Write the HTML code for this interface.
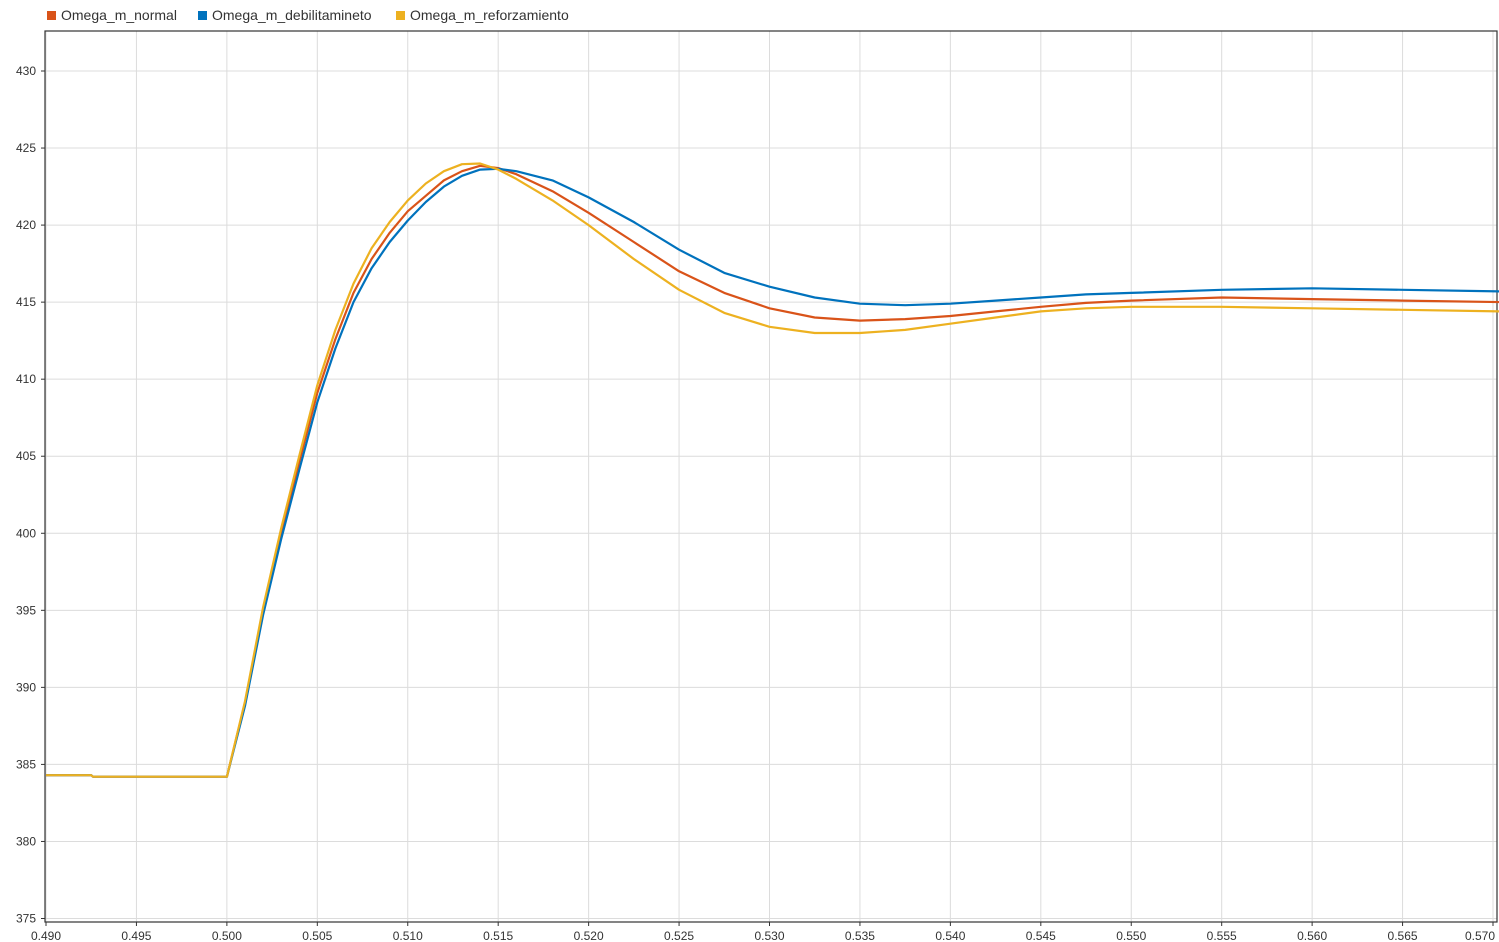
<!DOCTYPE html>
<html><head><meta charset="utf-8"><style>
html,body{margin:0;padding:0;background:#fff;width:1499px;height:942px;overflow:hidden}
svg{font-family:"Liberation Sans",Arial,sans-serif}
</style></head><body>
<svg id="chart" width="1499" height="942" xmlns="http://www.w3.org/2000/svg"></svg>
<script>
const tValues=[0.490,0.4925,0.4926,0.500,0.501,0.502,0.503,0.504,0.505,0.506,0.507,0.508,0.509,0.510,0.511,0.512,0.513,0.514,0.515,0.516,0.518,0.520,0.5225,0.525,0.5275,0.530,0.5325,0.535,0.5375,0.540,0.5425,0.545,0.5475,0.550,0.555,0.560,0.565,0.5705];
const normalValues=[384.3,384.3,384.2,384.2,389.0,395.0,400.0,404.6,409.1,412.6,415.6,417.8,419.5,420.9,421.9,422.9,423.5,423.85,423.7,423.3,422.2,420.8,418.9,417.0,415.6,414.6,414.0,413.8,413.9,414.1,414.4,414.7,414.95,415.1,415.3,415.2,415.1,415.0];
const debilValues=[384.3,384.3,384.2,384.2,388.8,394.7,399.6,404.1,408.5,412.0,415.0,417.2,418.9,420.3,421.5,422.5,423.2,423.6,423.65,423.5,422.9,421.8,420.2,418.4,416.9,416.0,415.3,414.9,414.8,414.9,415.1,415.3,415.5,415.6,415.8,415.9,415.8,415.7];
const reforzValues=[384.3,384.3,384.2,384.2,389.1,395.2,400.3,405.0,409.6,413.2,416.2,418.5,420.2,421.6,422.7,423.5,423.95,424.0,423.6,423.0,421.6,420.0,417.8,415.8,414.3,413.4,413.0,413.0,413.2,413.6,414.0,414.4,414.6,414.7,414.7,414.6,414.5,414.4];
const xTicks=["0.490","0.495","0.500","0.505","0.510","0.515","0.520","0.525","0.530","0.535","0.540","0.545","0.550","0.555","0.560","0.565","0.570"];
const yTicks=[375,380,385,390,395,400,405,410,415,420,425,430];
const seriesNames=["Omega_m_normal","Omega_m_debilitamineto","Omega_m_reforzamiento"];
const seriesColors=["#d95319","#0072bd","#edb120"];

const NS="http://www.w3.org/2000/svg";
const svg=document.getElementById('chart');
const L=45,R=1497,T=31,B=922;
const xs=v=>46+(v-0.490)/0.080*(1493-46);
const ys=v=>71+(430-v)*(918.5-71)/55;
function mk(tag,attrs,parent){const e=document.createElementNS(NS,tag);for(const k in attrs)e.setAttribute(k,attrs[k]);(parent||svg).appendChild(e);return e;}

const grid=mk('g',{});


xTicks.forEach((t,i)=>{const x=xs(parseFloat(t));
  const l=mk('line',{x1:x,x2:x,y1:T,y2:B,stroke:'#dcdcdc','stroke-width':1},grid);
  
  mk('line',{x1:x,x2:x,y1:B,y2:B+4,stroke:'#333'});
  const last=i===xTicks.length-1;
  const tx=mk('text',{x:last?x+2:x,y:940,'text-anchor':last?'end':'middle','font-size':12,fill:'#333'});
  tx.textContent=t;
  
  
});
yTicks.forEach(v=>{const y=ys(v);
  const l=mk('line',{x1:L,x2:R,y1:y,y2:y,stroke:'#dcdcdc','stroke-width':1},grid);
  
  mk('line',{x1:L-4,x2:L,y1:y,y2:y,stroke:'#333'});
  const tx=mk('text',{x:36,y:y+4,'text-anchor':'end','font-size':12,fill:'#333'});
  tx.textContent=v;
  
  
});
const frame=mk('rect',{x:L,y:T,width:R-L,height:B-T,fill:'none',stroke:'#333','stroke-width':1.2});



[normalValues,debilValues,reforzValues].forEach((vals,i)=>{
  const d=vals.map((v,j)=>(j?'L':'M')+xs(tValues[j]).toFixed(1)+','+ys(v).toFixed(1)).join(' ');
  const p=mk('path',{d:d,fill:'none',stroke:seriesColors[i],'stroke-width':2.2,'stroke-linejoin':'round'});
  
  
});

const legX=[47,198,396];
seriesNames.forEach((n,i)=>{
  const g=mk('g',{});
  
  
  mk('rect',{x:legX[i],y:11,width:9,height:9,fill:seriesColors[i]},g);
  const tx=mk('text',{x:legX[i]+14,y:20,'font-size':14,fill:'#333'},g);
  tx.textContent=n;
});
</script>
</body></html>
